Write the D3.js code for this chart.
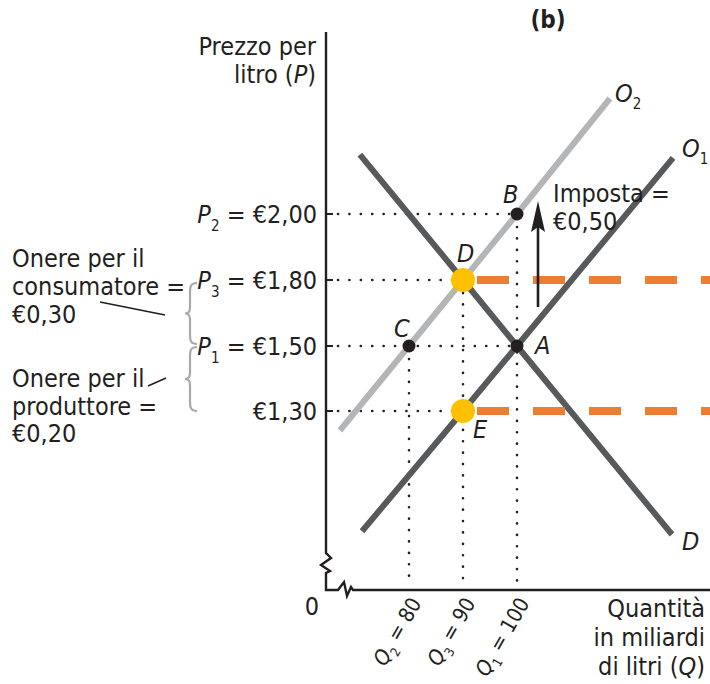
<!DOCTYPE html>
<meta charset="utf-8">
<title>Imposta sulla benzina (b)</title>
<style>
body { margin:0; background:#fff; }
svg text { font-family: "Liberation Sans Narrow", "DejaVu Sans Condensed", "Liberation Sans", sans-serif; fill:#231f20; }
.lbl { font-size:25px; }
.qlbl { font-size:21px; }
.sub { font-size:15px; }
.it { font-style:italic; }
.dots { fill:none; stroke:#231f20; stroke-width:2.6; stroke-linecap:round; stroke-dasharray:0.1 11.3; }
.curve { fill:none; stroke-width:6; }
.brace { fill:none; stroke:#a7a9ac; stroke-width:2.2; }
</style>
<body>
<div id="container"></div>
<script src="https://d3js.org/d3.v7.min.js"></script>
<script>
// curves as [quantity, price] points
var demand = [[70.9, 2.18], [90, 1.80], [100, 1.50], [128.7, 0.92]];
var supply1 = [[71.3, 0.93], [90, 1.30], [100, 1.50], [128.9, 2.17]];
var supply2 = [[67.2, 1.24], [80, 1.50], [90, 1.80], [100, 2.00], [117.2, 2.35]];

// price levels shown on the axis (not to scale in the book figure)
var priceLevels = [1.30, 1.50, 1.80, 2.00];
var priceNames = ["", "1", "3", "2"];
var priceText = ["€1,30", "€1,50", "€1,80", "€2,00"];

var qtyLevels = [80, 90, 100];
var qtyNames = ["2", "3", "1"];

// equilibrium points
var points = [
  {name: "B", q: 100, p: 2.00, big: false},
  {name: "C", q: 80, p: 1.50, big: false},
  {name: "A", q: 100, p: 1.50, big: false},
  {name: "D", q: 90, p: 1.80, big: true},
  {name: "E", q: 90, p: 1.30, big: true}
];

var width = 710, height = 684;
var x0 = 326, yBase = 590;

var x = d3.scaleLinear().domain([80, 100]).range([409, 517]);
var y = d3.scaleLinear().domain(priceLevels).range([411, 346, 280, 214]);

var svg = d3.select("#container").append("svg")
    .attr("width", width)
    .attr("height", height);

// title
svg.append("text").attr("x", 548).attr("y", 28)
   .attr("text-anchor", "middle").style("font-size", "24px").style("font-weight", "bold")
   .text("(b)");

// axes with break marks
svg.append("path")
   .attr("d", "M" + x0 + ",32V553L331,558L321,565L330,571L" + x0 + ",573V" + yBase + "H338L344,582L347,596L351,587L353,590H710")
   .attr("fill", "none").attr("stroke", "#231f20").attr("stroke-width", 2.4);

// axis ticks
priceLevels.forEach(function(p) {
  svg.append("line").attr("x1", x0).attr("x2", x0 + 7)
     .attr("y1", y(p)).attr("y2", y(p))
     .attr("stroke", "#231f20").attr("stroke-width", 2);
});

// dotted guide lines
function hdots(p, q) {
  svg.append("line").attr("class", "dots")
     .attr("x1", x0 + 12).attr("x2", x(q) - 6).attr("y1", y(p)).attr("y2", y(p));
}
function vdots(q, p) {
  svg.append("line").attr("class", "dots")
     .attr("x1", x(q)).attr("x2", x(q)).attr("y1", y(p) + 13).attr("y2", yBase - 8);
}
hdots(2.00, 100); hdots(1.80, 90); hdots(1.50, 100); hdots(1.30, 90);
vdots(80, 1.50); vdots(90, 1.80); vdots(100, 2.00);

var line = d3.line().x(function(d) { return x(d[0]); }).y(function(d) { return y(d[1]); });

svg.append("path").datum(supply2).attr("class", "curve").attr("stroke", "#b4b5b7").attr("d", line);
svg.append("path").datum(demand).attr("class", "curve").attr("stroke", "#58595b").attr("d", line);
svg.append("path").datum(supply1).attr("class", "curve").attr("stroke", "#58595b").attr("d", line);

// orange dashed price lines
[1.80, 1.30].forEach(function(p) {
  svg.append("line")
     .attr("x1", x(90) + 14).attr("x2", width).attr("y1", y(p)).attr("y2", y(p))
     .attr("stroke", "#ed7d31").attr("stroke-width", 8).attr("stroke-dasharray", "32 24");
});

// tax arrow
svg.append("line").attr("x1", 538).attr("x2", 538).attr("y1", 307).attr("y2", 222)
   .attr("stroke", "#231f20").attr("stroke-width", 2.6);
svg.append("path").attr("d", "M538,201L545,232L538,227L531,232Z").attr("fill", "#231f20");

// points
svg.selectAll(".pt").data(points).enter().append("circle")
   .attr("class", "pt")
   .attr("cx", function(d) { return x(d.q); })
   .attr("cy", function(d) { return y(d.p); })
   .attr("r", function(d) { return d.big ? 12 : 6.5; })
   .attr("fill", function(d) { return d.big ? "#ffc000" : "#231f20"; });

// point labels
var ptLabels = [["B", 503, 203], ["D", 457, 262], ["C", 394, 337], ["A", 535, 354], ["E", 473, 438], ["D", 682, 550]];
ptLabels.forEach(function(l) {
  svg.append("text").attr("class", "lbl it").attr("x", l[1]).attr("y", l[2]).text(l[0]);
});

// curve labels
function curveLabel(xp, yp, s) {
  var t = svg.append("text").attr("class", "lbl it").attr("x", xp).attr("y", yp);
  t.append("tspan").text("O");
  t.append("tspan").attr("class", "sub").attr("dy", 7).style("font-style", "normal").text(s);
}
curveLabel(615, 102, "2");
curveLabel(682, 157, "1");

svg.append("text").attr("class", "lbl").attr("x", 553).attr("y", 202).text("Imposta =");
svg.append("text").attr("class", "lbl").attr("x", 553).attr("y", 230).text("€0,50");

// y axis title
svg.append("text").attr("class", "lbl").attr("x", 316).attr("y", 55).attr("text-anchor", "end").text("Prezzo per");
var yt = svg.append("text").attr("class", "lbl").attr("x", 316).attr("y", 83).attr("text-anchor", "end");
yt.append("tspan").text("litro (");
yt.append("tspan").attr("class", "it").text("P");
yt.append("tspan").text(")");

// price labels
priceLevels.forEach(function(p, i) {
  var t = svg.append("text").attr("class", "lbl").attr("x", 317).attr("y", y(p) + 9).attr("text-anchor", "end");
  if (priceNames[i]) {
    t.append("tspan").attr("class", "it").text("P");
    t.append("tspan").attr("class", "sub").attr("dy", 8).text(priceNames[i]);
    t.append("tspan").attr("dy", -8).text(" = " + priceText[i]);
  } else {
    t.text(priceText[i]);
  }
});

// x axis labels
svg.append("text").attr("class", "lbl").attr("x", 312).attr("y", 615).attr("text-anchor", "middle").text("0");
qtyLevels.forEach(function(q, i) {
  var t = svg.append("text").attr("class", "qlbl")
     .attr("text-anchor", "end")
     .attr("transform", "translate(" + (x(q) + 13) + ",603) rotate(-60)");
  t.append("tspan").attr("class", "it").text("Q");
  t.append("tspan").attr("dy", 6).style("font-size", "13px").text(qtyNames[i]);
  t.append("tspan").attr("dy", -6).text(" = " + q);
});

var xt = ["Quantità", "in miliardi"];
xt.forEach(function(s, i) {
  svg.append("text").attr("class", "lbl").attr("x", 705).attr("y", 617 + i * 29).attr("text-anchor", "end").text(s);
});
var xt3 = svg.append("text").attr("class", "lbl").attr("x", 705).attr("y", 675).attr("text-anchor", "end");
xt3.append("tspan").text("di litri (");
xt3.append("tspan").attr("class", "it").text("Q");
xt3.append("tspan").text(")");

// burden annotations
var consumer = ["Onere per il", "consumatore =", "€0,30"];
var producer = ["Onere per il", "produttore =", "€0,20"];
consumer.forEach(function(s, i) {
  svg.append("text").attr("class", "lbl").attr("x", 12).attr("y", 267 + i * 28).text(s);
});
producer.forEach(function(s, i) {
  svg.append("text").attr("class", "lbl").attr("x", 12).attr("y", 387 + i * 27.5).text(s);
});
svg.append("line").attr("x1", 100).attr("y1", 302).attr("x2", 165).attr("y2", 315)
   .attr("stroke", "#231f20").attr("stroke-width", 1.6);
svg.append("line").attr("x1", 148).attr("y1", 386).attr("x2", 166).attr("y2", 378)
   .attr("stroke", "#231f20").attr("stroke-width", 1.6);

function brace(top, bot) {
  var mid = (top + bot) / 2;
  return "M197," + top + "C191," + top + " 190," + (top + 3) + " 190," + (top + 9) +
         "V" + (mid - 6) + "C190," + (mid - 2) + " 188," + mid + " 185," + mid +
         "C188," + mid + " 190," + (mid + 2) + " 190," + (mid + 6) +
         "V" + (bot - 9) + "C190," + (bot - 3) + " 191," + bot + " 197," + bot;
}
svg.append("path").attr("class", "brace").attr("d", brace(283, 344));
svg.append("path").attr("class", "brace").attr("d", brace(347, 411));
</script>
</body>
</html>
